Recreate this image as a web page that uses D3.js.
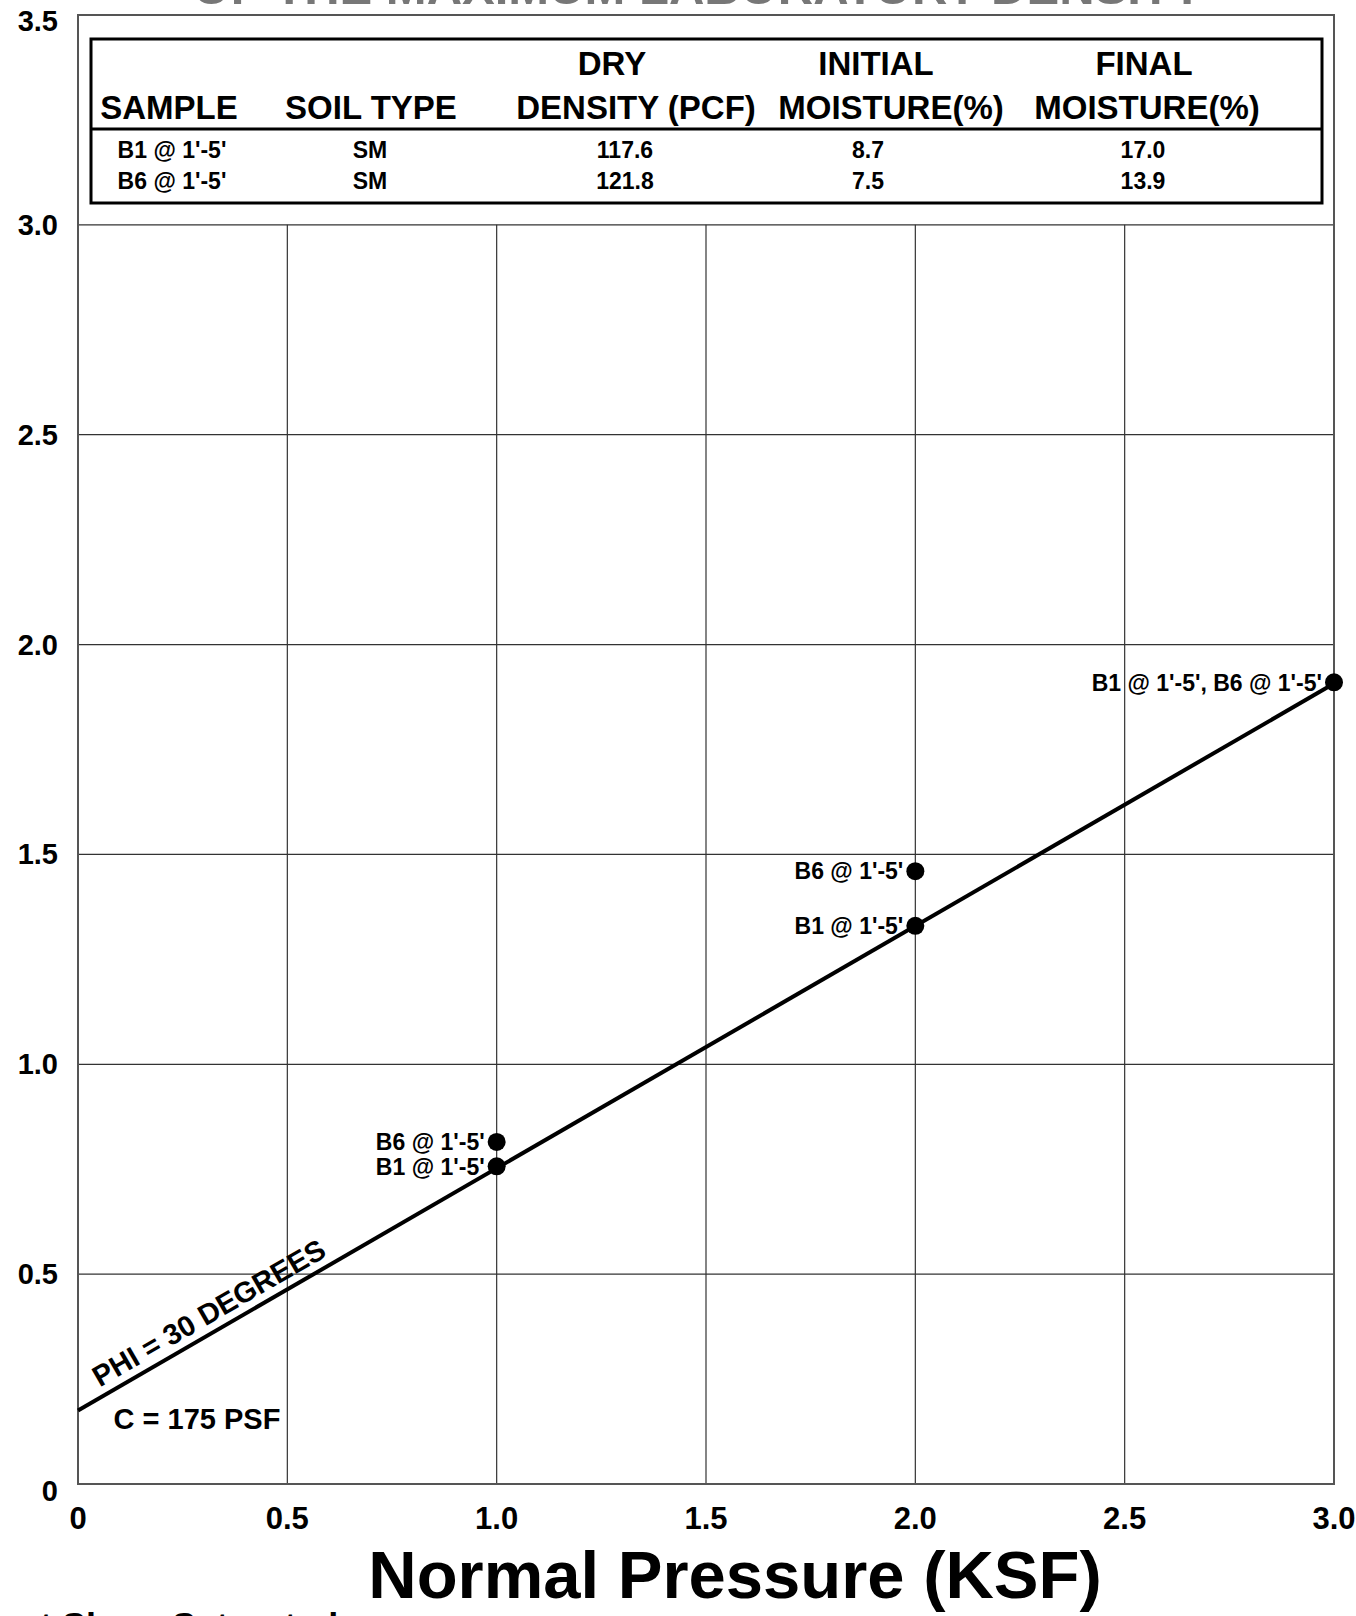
<!DOCTYPE html>
<html>
<head>
<meta charset="utf-8">
<script src="https://cdn.jsdelivr.net/npm/d3@7"></script>
<style>
  body { margin: 0; background: #fff; }
  svg { display: block; font-family: "Liberation Sans", Arial, sans-serif; font-weight: bold; }
</style>
</head>
<body>
<div id="chart"></div>
<script>
// tick values
const xTicks = [0, 0.5, 1.0, 1.5, 2.0, 2.5, 3.0];
const yTicks = [0, 0.5, 1.0, 1.5, 2.0, 2.5, 3.0, 3.5];

// test results (normal pressure vs shear strength, KSF)
const normalPressure = [1.0, 1.0, 2.0, 2.0, 3.0];
const shearStrength = [0.757, 0.815, 1.33, 1.46, 1.91];
const pointLabels = ["B1 @ 1'-5'", "B6 @ 1'-5'", "B1 @ 1'-5'", "B6 @ 1'-5'", "B1 @ 1'-5', B6 @ 1'-5'"];

// strength envelope
const cohesionKsf = 0.175;
const phiDeg = 30;

// summary table
const headerTop = ["", "", "DRY", "INITIAL", "FINAL"];
const headerBottom = ["SAMPLE", "SOIL TYPE", "DENSITY (PCF)", "MOISTURE(%)", "MOISTURE(%)"];
const samples = ["B1 @ 1'-5'", "B6 @ 1'-5'"];
const soilTypes = ["SM", "SM"];
const dryDensity = ["117.6", "121.8"];
const initialMoisture = ["8.7", "7.5"];
const finalMoisture = ["17.0", "13.9"];

const width = 1356, height = 1616;
const plot = {left: 78, right: 1334, top: 15, bottom: 1484};

const svg = d3.select("#chart")
    .append("svg")
    .attr("width", width)
    .attr("height", height);

const x = d3.scaleLinear().domain([0, 3]).range([plot.left, plot.right]);
const y = d3.scaleLinear().domain([0, 3.5]).range([plot.bottom, plot.top]);
const fmt = d => d === 0 ? "0" : d3.format(".1f")(d);

// clipped title above the chart
svg.append("text")
    .attr("x", 698)
    .attr("y", 4)
    .attr("text-anchor", "middle")
    .style("font-size", "49px")
    .style("fill", "#777")
    .text("OF THE MAXIMUM LABORATORY DENSITY");

// grid
svg.append("g")
    .selectAll("line")
    .data(xTicks.filter(d => d > 0 && d < 3))
    .enter().append("line")
    .attr("x1", d => x(d)).attr("x2", d => x(d))
    .attr("y1", y(0)).attr("y2", y(3))
    .style("stroke", "#333")
    .style("stroke-width", 1.2);

svg.append("g")
    .selectAll("line")
    .data(yTicks.filter(d => d > 0 && d <= 3))
    .enter().append("line")
    .attr("x1", x(0)).attr("x2", x(3))
    .attr("y1", d => y(d)).attr("y2", d => y(d))
    .style("stroke", "#333")
    .style("stroke-width", 1.2);

// frame
svg.append("rect")
    .attr("x", x(0))
    .attr("y", y(3.5))
    .attr("width", x(3) - x(0))
    .attr("height", y(0) - y(3.5))
    .style("fill", "none")
    .style("stroke", "#555")
    .style("stroke-width", 2);

// table
const table = svg.append("g");
table.append("rect")
    .attr("x", 91).attr("y", 39)
    .attr("width", 1231).attr("height", 164)
    .style("fill", "#fff")
    .style("stroke", "#000")
    .style("stroke-width", 3);
table.append("line")
    .attr("x1", 91).attr("x2", 1322)
    .attr("y1", 129).attr("y2", 129)
    .style("stroke", "#000")
    .style("stroke-width", 3);

const topCols = [169, 371, 612, 876, 1144];
const bottomCols = [169, 371, 636, 891, 1147];
const dataCols = [172, 370, 625, 868, 1143];

table.selectAll(".h1")
    .data(headerTop)
    .enter().append("text")
    .attr("class", "h1")
    .attr("x", (d, i) => topCols[i])
    .attr("y", 75)
    .attr("text-anchor", "middle")
    .style("font-size", "33px")
    .text(d => d);

table.selectAll(".h2")
    .data(headerBottom)
    .enter().append("text")
    .attr("class", "h2")
    .attr("x", (d, i) => bottomCols[i])
    .attr("y", 119)
    .attr("text-anchor", "middle")
    .style("font-size", "33px")
    .text(d => d);

const rows = samples.map((s, i) => [s, soilTypes[i], dryDensity[i], initialMoisture[i], finalMoisture[i]]);
rows.forEach((row, r) => {
    table.selectAll(".r" + r)
        .data(row)
        .enter().append("text")
        .attr("class", "r" + r)
        .attr("x", (d, i) => dataCols[i])
        .attr("y", r === 0 ? 158 : 189)
        .attr("text-anchor", "middle")
        .style("font-size", "23px")
        .text(d => d);
});

// tick labels
svg.append("g")
    .selectAll("text")
    .data(yTicks)
    .enter().append("text")
    .attr("x", 58)
    .attr("y", d => y(d) + (d === 0 ? 17 : d === 3.5 ? 16 : 10))
    .attr("text-anchor", "end")
    .style("font-size", "29px")
    .text(fmt);

svg.append("g")
    .selectAll("text")
    .data(xTicks)
    .enter().append("text")
    .attr("x", d => x(d))
    .attr("y", 1529)
    .attr("text-anchor", "middle")
    .style("font-size", "31px")
    .text(fmt);

svg.append("text")
    .attr("x", 735)
    .attr("y", 1598)
    .attr("text-anchor", "middle")
    .style("font-size", "67px")
    .text("Normal Pressure (KSF)");

// clipped note below the chart
svg.append("text")
    .attr("x", -50)
    .attr("y", 1639)
    .style("font-size", "36px")
    .text("Direct Shear Saturated");

// failure envelope
const slope = Math.tan(phiDeg * Math.PI / 180);
const envelope = [0, 3].map(p => ({p: p, s: cohesionKsf + slope * p}));
const line = d3.line().x(d => x(d.p)).y(d => y(d.s));

svg.append("path")
    .datum(envelope)
    .attr("d", line)
    .style("fill", "none")
    .style("stroke", "#000")
    .style("stroke-width", 4);

const angle = Math.atan2(y(envelope[1].s) - y(envelope[0].s), x(3) - x(0)) * 180 / Math.PI;
const phiAt = 0.063;
svg.append("text")
    .attr("transform", `translate(${x(phiAt)},${y(cohesionKsf + slope * phiAt)}) rotate(${angle})`)
    .attr("dy", -9)
    .style("font-size", "29px")
    .text("PHI = " + phiDeg + " DEGREES");

svg.append("text")
    .attr("x", x(0.085))
    .attr("y", y(0.13))
    .style("font-size", "29px")
    .text("C = " + Math.round(cohesionKsf * 1000) + " PSF");

// points
const points = normalPressure.map((p, i) => ({p: p, s: shearStrength[i], label: pointLabels[i]}));

svg.selectAll(".dot")
    .data(points)
    .enter().append("circle")
    .attr("class", "dot")
    .attr("cx", d => x(d.p))
    .attr("cy", d => y(d.s))
    .attr("r", 9)
    .style("fill", "#000");

svg.selectAll(".plabel")
    .data(points)
    .enter().append("text")
    .attr("class", "plabel")
    .attr("x", d => x(d.p) - 12)
    .attr("y", d => y(d.s))
    .attr("dy", "0.36em")
    .attr("text-anchor", "end")
    .style("font-size", "23px")
    .text(d => d.label);
</script>
</body>
</html>
